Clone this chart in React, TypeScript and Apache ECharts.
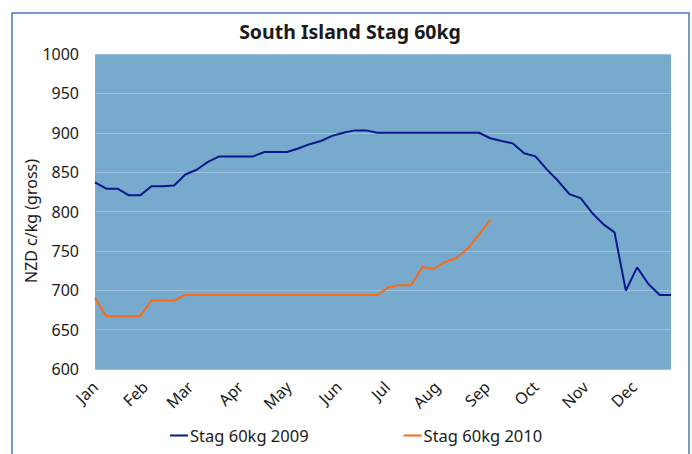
import React, { useEffect, useRef } from "react";
import * as echarts from "echarts";

const monthLabels = ["Jan", "Feb", "Mar", "Apr", "May", "Jun", "Jul", "Aug", "Sep", "Oct", "Nov", "Dec"];
const monthStartDays = [0, 31, 59, 90, 120, 151, 181, 212, 243, 273, 304, 334];

// weekly prices, c/kg
const stag2009 = [
  837, 829, 829, 820.5, 820.5, 832, 832, 833, 847, 853, 863, 870, 870, 870, 870, 875.5,
  875.5, 875.5, 880, 885.5, 889.5, 896, 900, 903, 903, 900, 900, 900, 900, 900, 900, 900,
  900, 900, 900, 893, 889.5, 886.5, 874, 870, 853.5, 839, 822, 817, 798.5, 784, 773.5,
  699.5, 729, 708, 694, 694,
];
const stag2010 = [
  690, 667, 667, 667, 667, 687, 687, 687, 694, 694, 694, 694, 694, 694, 694, 694, 694,
  694, 694, 694, 694, 694, 694, 694, 694, 694, 704, 706.5, 706.5, 729.5, 727, 736, 741,
  753, 771, 789,
];

const seriesNames = ["Stag 60kg 2009", "Stag 60kg 2010"];
const seriesColors = ["#0b178c", "#f96a12"];
const yTicks = { min: 600, max: 1000, interval: 50 };
const DAYS_PER_WEEK = 7;

export default function App() {
  const ref = useRef<HTMLDivElement>(null);
  useEffect(() => {
    if (!ref.current) return;
    const chart = echarts.init(ref.current, null, { renderer: "svg" });
    const toPoints = (arr: number[]) => arr.map((v, i) => [i * DAYS_PER_WEEK, v]);
    const lastDay = (stag2009.length - 1) * DAYS_PER_WEEK;
    const font = "'Noto Sans', sans-serif";
    const ink = "#1a1a1a";
    chart.setOption({
      animation: false,
      backgroundColor: "#ffffff",
      textStyle: { fontFamily: font },
      title: {
        text: "South Island Stag 60kg",
        left: 350,
        top: 21,
        padding: 0,
        textAlign: "center",
        textStyle: { fontFamily: font, fontSize: 19.5, fontWeight: "bold", color: ink },
      },
      graphic: [
        {
          type: "rect",
          shape: { x: 12, y: 13, width: 677, height: 470 },
          style: { fill: "none", stroke: "#4a78b8", lineWidth: 1.5 },
          silent: true,
        },
        {
          type: "text",
          x: 31,
          y: 221,
          rotation: Math.PI / 2,
          style: {
            text: "NZD c/kg (gross)",
            fontFamily: font,
            fontSize: 16,
            fill: ink,
            align: "center",
            verticalAlign: "middle",
          },
          silent: true,
        },
      ],
      legend: {
        data: seriesNames.map((n) => ({ name: n, icon: "rect" })),
        left: 170,
        top: 427,
        padding: 0,
        itemWidth: 18,
        itemHeight: 2,
        itemGap: 95,
        textStyle: { fontFamily: font, fontSize: 16.5, color: ink, padding: [0, 0, 0, -3] },
      },
      grid: {
        left: 95,
        top: 54,
        width: 576,
        height: 315,
        show: true,
        backgroundColor: "#77aacd",
        borderWidth: 0,
      },
      xAxis: {
        type: "value",
        min: 0,
        max: lastDay,
        axisLine: { show: false },
        axisTick: { show: false },
        splitLine: { show: false },
        axisLabel: {
          customValues: monthStartDays,
          rotate: 45,
          margin: 15,
          fontFamily: font,
          fontSize: 16,
          color: ink,
          formatter: (v: number) => {
            const idx = monthStartDays.indexOf(v);
            return idx >= 0 ? monthLabels[idx] : "";
          },
        },
      },
      yAxis: {
        type: "value",
        min: yTicks.min,
        max: yTicks.max,
        interval: yTicks.interval,
        axisLine: { show: false },
        axisTick: { show: false },
        axisLabel: {
          fontFamily: font,
          fontSize: 16,
          color: ink,
          margin: 16,
          formatter: (v: number) => String(v),
        },
        splitLine: { show: true, lineStyle: { color: "#9dc3e0", width: 1 } },
      },
      series: [
        {
          name: seriesNames[0],
          type: "line",
          data: toPoints(stag2009),
          showSymbol: false,
          symbol: "none",
          lineStyle: { color: seriesColors[0], width: 2 },
          itemStyle: { color: seriesColors[0] },
        },
        {
          name: seriesNames[1],
          type: "line",
          data: toPoints(stag2010),
          showSymbol: false,
          symbol: "none",
          lineStyle: { color: seriesColors[1], width: 2 },
          itemStyle: { color: seriesColors[1] },
        },
      ],
    });
    return () => chart.dispose();
  }, []);
  return (
    <div
      ref={ref}
      style={{ position: "absolute", left: 0, top: 0, width: 692, height: 454 }}
    />
  );
}
